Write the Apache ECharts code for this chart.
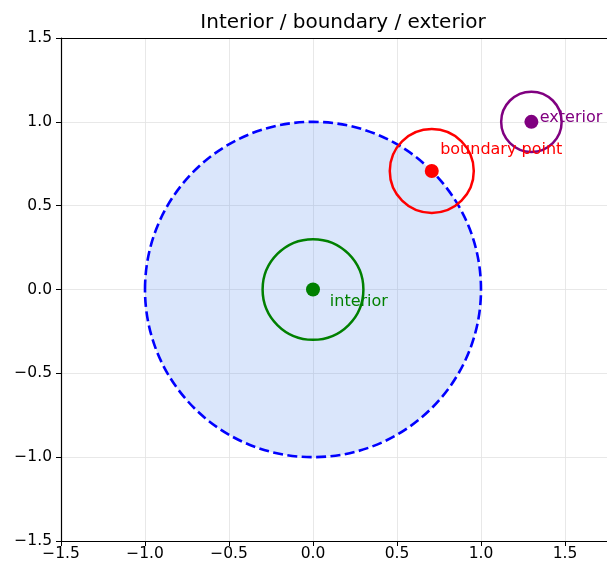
<!DOCTYPE html>
<html>
<head>
<meta charset="utf-8">
<script src="https://cdn.jsdelivr.net/npm/echarts@6/dist/echarts.min.js"></script>
<style>
  html, body { margin: 0; padding: 0; background: #fff; }
  #chart { width: 607px; height: 569px; }
</style>
</head>
<body>
<div id="chart"></div>
<script>
// Unit disk (boundary of the region)
const diskCenter = [0, 0];
const diskRadius = 1;

// Neighbourhood circles: interior, boundary, exterior
const pointNames = ['interior', 'boundary point', 'exterior'];
const pointX = [0, 0.707, 1.3];
const pointY = [0, 0.707, 1.0];
const pointRadius = [0.3, 0.25, 0.18];
const pointColors = ['#008000', '#ff0000', '#800080'];

// Text annotations (baseline anchors, data coordinates)
const labelX = [0.1, 0.757, 1.35];
const labelY = [-0.1, 0.807, 1.0];

// Axis ticks
const xMin = -1.5, xMax = 1.75, yMin = -1.5, yMax = 1.5, tickStep = 0.5;

const FONT = '"DejaVu Sans", sans-serif';

function fmtTick(v) {
  if (Math.abs(v / tickStep - Math.round(v / tickStep)) > 1e-6) return '';
  const s = Math.abs(v).toFixed(1);
  return v < -1e-9 ? '\u2212' + s : s;
}

const chart = echarts.init(document.getElementById('chart'), null, { renderer: 'canvas' });

function circleItem(cx, cy, r, api, style) {
  const c = api.coord([cx, cy]);
  const sx = api.size([r, 0])[0];
  const sy = api.size([0, r])[1];
  return { type: 'ellipse', shape: { cx: c[0], cy: c[1], rx: sx, ry: sy }, style: style };
}

const series = [];

// Filled unit disk with dashed outline
series.push({
  type: 'custom',
  name: 'disk',
  coordinateSystem: 'cartesian2d',
  data: [[diskCenter[0], diskCenter[1], diskRadius]],
  z: 1,
  clip: true,
  renderItem: function (params, api) {
    return circleItem(api.value(0), api.value(1), api.value(2), api, {
      fill: 'rgba(100,149,237,0.24)',
      stroke: '#0000ff',
      lineWidth: 2.6,
      lineDash: [10, 4.4]
    });
  }
});

// Neighbourhood rings
series.push({
  type: 'custom',
  name: 'rings',
  coordinateSystem: 'cartesian2d',
  data: pointX.map((x, i) => [x, pointY[i], pointRadius[i], i]),
  z: 2,
  clip: true,
  renderItem: function (params, api) {
    const i = api.value(3);
    return circleItem(api.value(0), api.value(1), api.value(2), api, {
      fill: 'none',
      stroke: pointColors[i],
      lineWidth: 2.5
    });
  }
});

// Centre points
series.push({
  type: 'scatter',
  name: 'points',
  symbolSize: 14,
  z: 3,
  itemStyle: { opacity: 1 },
  data: pointX.map((x, i) => ({ value: [x, pointY[i]], itemStyle: { color: pointColors[i], opacity: 1 } }))
});

// Annotations
series.push({
  type: 'custom',
  name: 'labels',
  coordinateSystem: 'cartesian2d',
  data: labelX.map((x, i) => [x, labelY[i], i]),
  z: 4,
  clip: false,
  renderItem: function (params, api) {
    const i = api.value(2);
    const c = api.coord([api.value(0), api.value(1)]);
    return {
      type: 'text',
      x: c[0],
      y: c[1] + 4,
      style: {
        text: pointNames[i],
        fill: pointColors[i],
        font: '16px ' + FONT,
        textAlign: 'left',
        textVerticalAlign: 'bottom',
        verticalAlign: 'bottom'
      }
    };
  }
});

const axisLabelStyle = { color: '#000', fontSize: 15.5, fontFamily: FONT };

chart.setOption({
  animation: false,
  backgroundColor: '#ffffff',
  title: {
    text: 'Interior / boundary / exterior',
    left: 338,
    textAlign: 'center',
    top: 8,
    textStyle: { color: '#000', fontSize: 20, fontWeight: 'normal', fontFamily: FONT }
  },
  grid: { left: 61, right: 0, top: 38, bottom: 28, containLabel: false },
  xAxis: [{
    type: 'value',
    min: xMin, max: xMax, interval: tickStep,
    axisLine: { show: true, onZero: false, lineStyle: { color: '#000', width: 1.2 } },
    axisTick: { show: true, length: 5, lineStyle: { color: '#000', width: 1 } },
    axisLabel: Object.assign({ formatter: fmtTick, showMaxLabel: false, margin: 5 }, axisLabelStyle),
    splitLine: { show: true, lineStyle: { color: '#e2e2e2', width: 0.8 } }
  }, {
    type: 'value',
    position: 'top',
    min: xMin, max: xMax,
    axisLine: { show: true, onZero: false, lineStyle: { color: '#000', width: 1.2 } },
    axisTick: { show: false },
    axisLabel: { show: false },
    splitLine: { show: false }
  }],
  yAxis: {
    type: 'value',
    min: yMin, max: yMax, interval: tickStep,
    axisLine: { show: true, onZero: false, lineStyle: { color: '#000', width: 1.2 } },
    axisTick: { show: true, length: 5, lineStyle: { color: '#000', width: 1 } },
    axisLabel: Object.assign({ formatter: fmtTick, margin: 9 }, axisLabelStyle),
    splitLine: { show: true, lineStyle: { color: '#e2e2e2', width: 0.8 } }
  },
  series: series
});
</script>
</body>
</html>
